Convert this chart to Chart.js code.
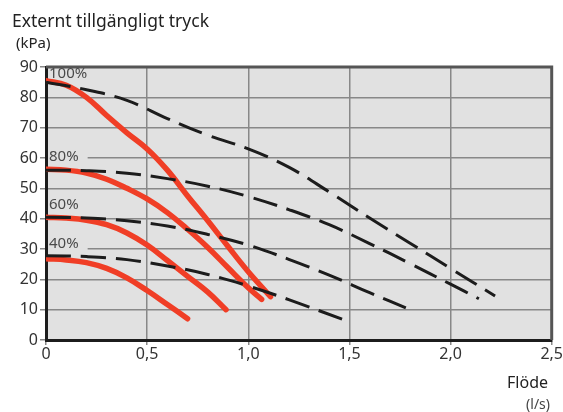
<!DOCTYPE html>
<html>
<head>
<meta charset="utf-8">
<script src="https://cdn.jsdelivr.net/npm/chart.js@4/dist/chart.umd.min.js"></script>
<style>
  html, body { margin: 0; padding: 0; background: #fff; }
  #wrap { width: 563px; height: 412px; position: relative; }
</style>
</head>
<body>
<div id="wrap"><canvas id="pumpChart"></canvas></div>
<script>
// flow (l/s) and pressure (kPa)
const xTickLabels = ['0', '0,5', '1,0', '1,5', '2,0', '2,5'];
const curveLabels = ['100%', '80%', '60%', '40%'];
const labelPos = [[0.01, 87.8], [0.01, 60.3], [0.01, 44.5], [0.01, 31.6]];

// dashed curves
const dash100Flow = [0, 0.2, 0.4, 0.6, 0.8, 1.0, 1.2, 1.4, 1.6, 1.8, 2.0, 2.22];
const dash100Kpa  = [85, 82.5, 79, 73, 67.5, 63, 57, 48.8, 40.2, 31.9, 23.6, 14.5];
const dash80Flow  = [0, 0.2, 0.4, 0.6, 0.8, 1.0, 1.2, 1.4, 1.6, 1.8, 2.0, 2.14];
const dash80Kpa   = [56, 55.8, 55, 53.2, 50.7, 47.3, 43, 38, 31.8, 25.2, 18.4, 13.6];
const dash60Flow  = [0, 0.2, 0.4, 0.6, 0.8, 1.0, 1.2, 1.4, 1.6, 1.8];
const dash60Kpa   = [40.5, 40.2, 39.3, 37.6, 34.8, 31.3, 26.6, 21.4, 15.6, 10];
const dash40Flow  = [0, 0.2, 0.4, 0.6, 0.8, 1.0, 1.2, 1.47];
const dash40Kpa   = [27.8, 27.5, 26.5, 24.4, 21.6, 17.8, 13.3, 6.7];

// red curves
const red100Flow = [0, 0.1, 0.2, 0.3, 0.4, 0.5, 0.6, 0.7, 0.8, 0.9, 1.0, 1.11];
const red100Kpa  = [85.5, 84, 80, 74, 68.3, 63, 56, 47.5, 39.3, 30.8, 22.5, 14.3];
const red80Flow  = [0, 0.1, 0.2, 0.3, 0.4, 0.5, 0.6, 0.7, 0.8, 0.9, 1.0, 1.066];
const red80Kpa   = [56.3, 56, 55, 53, 50, 46.5, 42, 36.5, 30.5, 23.8, 17.2, 13.4];
const red60Flow  = [0, 0.1, 0.2, 0.3, 0.4, 0.5, 0.6, 0.7, 0.8, 0.89];
const red60Kpa   = [40.5, 40.2, 39.5, 38, 35.3, 31.3, 26.2, 21, 15.8, 10];
const red40Flow  = [0, 0.1, 0.2, 0.3, 0.4, 0.5, 0.6, 0.7];
const red40Kpa   = [26.8, 26.4, 25.5, 23.6, 20.5, 16.3, 11.7, 7];

function pts(xs, ys) {
  return xs.map((x, i) => ({ x: x, y: ys[i] }));
}

const RED = 'rgb(240, 62, 38)';
const DARK = '#1c1c1c';

function dashed(xs, ys) {
  return {
    data: pts(xs, ys),
    borderColor: DARK,
    borderWidth: 3,
    borderDash: [25, 10],
    pointRadius: 0,
    tension: 0.4,
    fill: false
  };
}
function solid(xs, ys) {
  return {
    data: pts(xs, ys),
    borderColor: RED,
    borderWidth: 5.5,
    borderCapStyle: 'round',
    borderJoinStyle: 'round',
    pointRadius: 0,
    tension: 0.4,
    fill: false
  };
}

const decor = {
  id: 'decor',
  beforeDraw(chart) {
    const { ctx, chartArea: a } = chart;
    ctx.save();
    ctx.fillStyle = '#e1e1e1';
    ctx.fillRect(a.left, a.top, a.right - a.left, a.bottom - a.top);
    ctx.restore();
  },
  afterDatasetsDraw(chart) {
    const { ctx, chartArea: a, scales } = chart;
    ctx.save();
    // top and right frame
    ctx.strokeStyle = '#555';
    ctx.lineWidth = 3;
    ctx.beginPath();
    ctx.moveTo(a.left, a.top);
    ctx.lineTo(a.right, a.top);
    ctx.lineTo(a.right, a.bottom);
    ctx.stroke();

    // curve labels
    ctx.font = '15px "Noto Sans"';
    ctx.textBaseline = 'middle';
    ctx.textAlign = 'left';
    curveLabels.forEach((t, i) => {
      const x = scales.x.getPixelForValue(labelPos[i][0]);
      const y = scales.y.getPixelForValue(labelPos[i][1]);
      const w = ctx.measureText(t).width;
      if (i > 0) {
        ctx.fillStyle = '#e1e1e1';
        ctx.fillRect(x, y - 7, w + 10, 14);
      }
      ctx.fillStyle = '#4a4a4a';
      ctx.fillText(t, x + 1, y);
    });

    // titles
    ctx.fillStyle = '#222';
    ctx.font = '17.5px "Noto Sans"';
    ctx.fillText('Externt tillgängligt tryck', 12, 22);
    ctx.font = '15px "Noto Sans"';
    ctx.fillText('(kPa)', 16, 44);
    ctx.textAlign = 'right';
    ctx.font = '16px "Noto Sans"';
    ctx.fillText('Flöde', 548, 383);
    ctx.font = '14px "Noto Sans"';
    ctx.fillStyle = '#444';
    ctx.fillText('(l/s)', 550, 405);
    ctx.restore();
  }
};

new Chart(document.getElementById('pumpChart'), {
  type: 'line',
  data: {
    datasets: [
      dashed(dash100Flow, dash100Kpa),
      dashed(dash80Flow, dash80Kpa),
      dashed(dash60Flow, dash60Kpa),
      dashed(dash40Flow, dash40Kpa),
      solid(red100Flow, red100Kpa),
      solid(red80Flow, red80Kpa),
      solid(red60Flow, red60Kpa),
      solid(red40Flow, red40Kpa)
    ]
  },
  options: {
    responsive: true,
    maintainAspectRatio: false,
    animation: false,
    events: [],
    layout: { padding: { left: 0, top: 67, right: 11, bottom: 44 } },
    plugins: { legend: { display: false }, tooltip: { enabled: false } },
    scales: {
      x: {
        type: 'linear',
        min: 0, max: 2.5,
        ticks: {
          stepSize: 0.5,
          color: '#333',
          font: { family: 'Noto Sans', size: 16 },
          padding: 0,
          maxRotation: 0,
          callback: (v) => xTickLabels[Math.round(v / 0.5)]
        },
        grid: { color: '#888', lineWidth: 1.5, tickLength: 5 },
        border: { color: DARK, width: 3 },
        afterFit: (s) => { s.height = 28; }
      },
      y: {
        min: 0, max: 90,
        ticks: {
          stepSize: 10,
          color: '#333',
          font: { family: 'Noto Sans', size: 16 },
          padding: 2
        },
        grid: { color: '#888', lineWidth: 1.5, tickLength: 6 },
        border: { color: DARK, width: 3 },
        afterFit: (s) => { s.height = s.height; s.width = 46; }
      }
    }
  },
  plugins: [decor]
});
</script>
</body>
</html>
